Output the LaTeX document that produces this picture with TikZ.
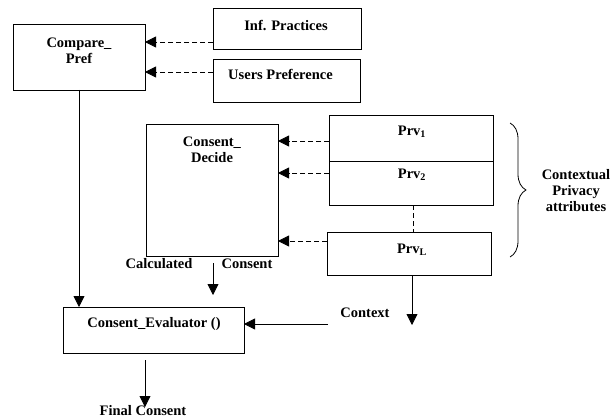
\documentclass[tikz,border=0pt]{standalone}
\usepackage{fontspec}
\setmainfont{Liberation Serif}
\usepackage{tikz}
\usetikzlibrary{arrows.meta,positioning,calc,decorations.pathreplacing}

\begin{document}
\begin{tikzpicture}[x=1pt,y=-1pt,
        box/.style={draw,rectangle,inner sep=0pt,outer sep=0pt},
        lbl/.style={font=\fontsize{14.5}{16}\selectfont\bfseries,align=center,inner sep=0pt},
        flow/.style={-{Triangle[length=11pt,width=11pt]},line width=0.8pt},
        feed/.style={flow,dash pattern=on 5pt off 3pt}]
        \useasboundingbox (0,0) rectangle (611,420);

        %%%% Boxes =====================================
        \node[box,minimum width=132,minimum height=66] (cmp) at (79,57) {};
        \node[box,minimum width=148,minimum height=41] (inf) at (287,28.5) {};
        \node[box,minimum width=147,minimum height=43] (usr) at (286.5,80.5) {};
        \node[box,minimum width=132,minimum height=132] (dec) at (212,190) {};
        \node[box,minimum width=164,minimum height=46] (prv1) at (411,138) {};
        \node[box,minimum width=164,minimum height=44] (prv2) at (411,183) {};
        \node[box,minimum width=164,minimum height=43] (prvL) at (409,253.5) {};
        \node[box,minimum width=181,minimum height=46] (eval) at (153.5,330) {};

        % Texts
        \node[lbl] (cmpText) at (79,50.5) {Compare\_\\Pref};
        \node[lbl] (infText) at (286,25) {Inf. Practices};
        \node[lbl] (usrText) at (280.5,74) {Users Preference};
        \node[lbl] (decText) at (212,150) {Consent\_\\Decide};
        \node[lbl] (prv1Text) at (412,132) {Prv\textsubscript{1}};
        \node[lbl] (prv2Text) at (412,175) {Prv\textsubscript{2}};
        \node[lbl] (prvLText) at (412,250) {Prv\textsubscript{L}};
        \node[lbl,text depth=0pt] (attrText) at (576,190) {Contextual\\Privacy\\attributes};
        \node[lbl] (calcText) at (159,264) {Calculated};
        \node[lbl] (consText) at (247,264) {Consent};
        \node[lbl] (ctxText) at (365,313) {Context};
        \node[lbl] (evalText) at (154,324) {Consent\_Evaluator ()};
        \node[lbl] (finText) at (143,411) {Final Consent};

        % Free ends
        \coordinate (calcTop) at (213,263);
        \coordinate (calcEnd) at (213,295);
        \coordinate (ctxEnd) at (412,325);
        \coordinate (ctxStart) at (328,324);
        \coordinate (finTop) at (145,360);
        \coordinate (finEnd) at (145,407);

        %%%% Arcs ======================================
        \draw[feed] (inf.west |- 0,42) -- (cmp.east |- 0,42);
        \draw[feed] (usr.west |- 0,72) -- (cmp.east |- 0,72);
        \draw[feed] (prv1.west |- 0,141) -- (dec.east |- 0,141);
        \draw[feed] (prv2.west |- 0,173) -- (dec.east |- 0,173);
        \draw[feed] (prvL.west |- 0,241) -- (dec.east |- 0,241);
        \draw[dash pattern=on 5pt off 3pt,line width=0.8pt] (prv2.south -| 413,0) -- (prvL.north -| 413,0);

        \draw[flow] (cmp.south) -- (cmp.south |- eval.north);
        \draw[flow] (calcTop) -- (calcEnd);
        \draw[flow] (prvL.south -| ctxEnd) -- (ctxEnd);
        \draw[flow] (ctxStart) -- (eval.east |- ctxStart);
        \draw[flow] (finTop) -- (finEnd);

        % Brace
        \draw[line width=0.8pt,decorate,decoration={brace,amplitude=16pt}] (510,123) -- (510,257);
\end{tikzpicture}
\end{document}
